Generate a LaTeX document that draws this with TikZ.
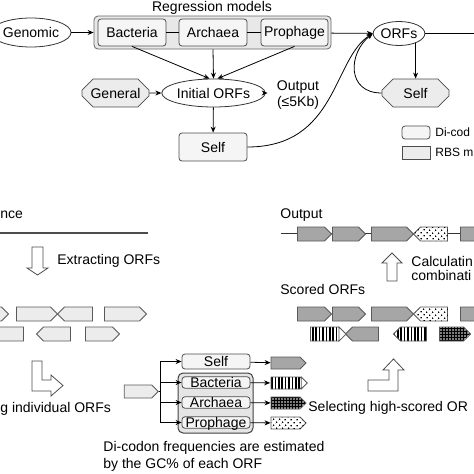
\documentclass[tikz,border=0pt]{standalone}
\usepackage{fontspec}
\setmainfont{Liberation Sans}
\usetikzlibrary{arrows.meta,shapes.geometric,shapes.misc,shapes.symbols,patterns.meta}

\begin{document}
\begin{tikzpicture}[x=1pt,y=-1pt,line width=0.8pt,>={Stealth[length=6pt,width=5pt]},
  every node/.style={font=\fontsize{14}{14}\selectfont},
  model/.style={draw=black!70,rounded corners=3pt,fill=gray!8,inner sep=0pt},
  rbs/.style={draw=black!70,chamfered rectangle,chamfered rectangle xsep=6pt,chamfered rectangle ysep=6pt,fill=gray!15,inner sep=0pt},
  orf/.style={draw=black!80,ellipse,fill=white,inner sep=0pt},
  gene/.style={draw=black!65,signal,signal from=nowhere,signal to=east,signal pointer angle=90,inner sep=0pt,minimum height=14pt,fill=gray!15},
  back/.style={gene,signal to=west},
  scored/.style={fill=gray!70},
  stripes/.style={pattern color=black,pattern={Lines[angle=90,distance=3.4pt,line width=1.7pt]}},
  checker/.style={fill=black,postaction={pattern color=white,pattern={Dots[radius=0.8pt,distance=3pt]}}},
  dotty/.style={fill=white,postaction={pattern color=black,pattern={Dots[radius=0.9pt,distance=4pt,angle=45]}}},
  bigarrow/.style={draw=black!70,fill=white}]
\useasboundingbox (0,0) rectangle (474,474);

% regression models
\node (title) at (212,8) {Regression models};
\node[model,fill=gray!18,draw=black!60,rounded corners=4pt,minimum width=237pt,minimum height=33pt] (reg) at (212.5,32.5) {};
\node[model,minimum width=68pt,minimum height=27pt] (bac) at (132,32.5) {Bacteria};
\node[model,minimum width=68pt,minimum height=27pt] (arc) at (213,32.5) {Archaea};
\node[model,minimum width=67pt,minimum height=27pt] (pro) at (294.5,32.5) {Prophage};
\draw (bac) -- (arc) (arc) -- (pro);
\node[orf,minimum width=80pt,minimum height=29pt] (gnm) at (31,32.5) {Genomic};
\draw [->] (gnm) -- (reg);

\node[orf,minimum width=85pt,minimum height=28pt] (ini) at (213.5,93) {Initial ORFs};
\node[rbs,minimum width=67pt,minimum height=28pt] (gen) at (115.5,93) {General};
\node[model,minimum width=68pt,minimum height=28pt] (slf) at (213,147) {Self};
\node[align=center,inner xsep=9pt,font=\fontsize{14}{16}\selectfont] (out) at (298,95) {Output\\(≤5Kb)};
\draw [->] (bac.south) -- ([xshift=-4pt]ini.north);
\draw [->] (arc.south |- reg.south) -- (ini.north);
\draw [->] (pro.south) -- ([xshift=4pt]ini.north);
\draw [->] (gen) -- (ini);
\draw [->] (ini) -- (slf);
\draw [->] (ini.east) -- (ini.east -| out.west);

\node[orf,minimum width=47pt,minimum height=24pt] (orfs) at (399,33.5) {ORFs};
\coordinate (rim) at (474,33.5);
\draw [->] (reg) -- (orfs);
\draw (orfs) -- (rim);
\node[rbs,minimum width=67pt,minimum height=28pt] (rself) at (415.5,93) {Self};
\draw [->] (orfs.-30) -- (orfs.-30 |- rself.north);
\draw [->] (rself.west) .. controls +(-35,0) and +(-25,20) .. (orfs.west);
\draw [->] (slf.east) .. controls +(90,0) and +(-40,25) .. (orfs.west);

% legend
\node[model,minimum width=28pt,minimum height=13pt] (lg1) at (416,132.5) {};
\node[anchor=west,inner sep=0pt,font=\fontsize{12}{12}\selectfont] (lt1) at (435,132.5) {Di-cod};
\node[rbs,chamfered rectangle xsep=3pt,chamfered rectangle ysep=3pt,minimum width=28pt,minimum height=13pt] (lg2) at (416,152.5) {};
\node[anchor=west,inner sep=0pt,font=\fontsize{12}{12}\selectfont] (lt2) at (435,152.5) {RBS m};

% extracting
\node[anchor=west,inner sep=0pt] (seq) at (0,215) {nce};
\draw [line width=1.6pt,black!70] (0,233) -- (148,233);
\draw [bigarrow] (32,247) -- (43,247) -- (43,268) -- (48,268) -- (37.5,275) -- (27,268) -- (32,268) -- cycle;
\node[anchor=west,inner sep=0pt] (ext) at (57,261) {Extracting ORFs};

\node[gene,minimum width=35pt] (a1) at (-12.5,314) {};
\node[gene,minimum width=41pt] (a2) at (33.5,314) {};
\node[back,minimum width=35pt] (a3) at (78.5,314) {};
\node[gene,minimum width=42pt] (a4) at (122,314) {};
\node[back,minimum width=39pt] (b1) at (7.5,334) {};
\node[back,minimum width=34pt] (b2) at (57,334) {};
\node[gene,minimum width=34pt] (b3) at (99,334) {};

\draw [bigarrow] (32,361) -- (42,361) -- (42,380) -- (51,380) -- (51,375) -- (63,385.5) -- (51,396) -- (51,391) -- (32,391) -- cycle;
\node[anchor=west,inner sep=0pt] (ind) at (0,409) {g individual ORFs};

% scoring each ORF
\node[gene,minimum width=34pt,minimum height=13pt] (inp) at (138,391.5) {};
\coordinate (fan) at (160,391.5);
\node[model,minimum width=68pt,minimum height=15pt] (slf2) at (216,361.5) {Self};
\node[model,fill=gray!20,draw=black!75,line width=1pt,rounded corners=5pt,minimum width=75pt,minimum height=60pt] (grp) at (215.5,403) {};
\node[model,minimum width=68pt,minimum height=11.5pt,text height=9.5pt,text depth=0pt] (bac2) at (216,382.5) {Bacteria};
\node[model,minimum width=68pt,minimum height=11.5pt,text height=9.5pt,text depth=0pt] (arc2) at (216,402.5) {Archaea};
\node[model,minimum width=68pt,minimum height=11.5pt,text height=9.5pt,text depth=0pt] (pro2) at (216,422.5) {Prophage};
\draw (inp.east) -- (fan);
\draw (fan |- slf2.west) -- (fan |- pro2.west);
\draw [->] (fan |- slf2.west) -- (slf2.west);
\draw [->] (fan |- bac2.west) -- (bac2.west);
\draw [->] (fan |- arc2.west) -- (arc2.west);
\draw [->] (fan |- pro2.west) -- (pro2.west);

\node[gene,scored,minimum width=35pt,minimum height=12pt] (gs) at (285.5,363) {};
\node[gene,stripes,minimum width=35pt,minimum height=12pt] (gb) at (285.5,383) {};
\node[gene,checker,minimum width=35pt,minimum height=12pt] (ga) at (285.5,403) {};
\node[gene,dotty,minimum width=35pt,minimum height=12pt] (gp) at (285.5,423) {};
\filldraw [fill=white,draw=black!65] (gb.east) -- ++(-6,-6) -- ++(0,12) -- cycle;
\draw [->] (slf2) -- (gs);
\draw [->] (bac2) -- (gb);
\draw [->] (arc2) -- (ga);
\draw [->] (pro2) -- (gp);
\node[anchor=west,align=left,inner sep=0pt,font=\fontsize{14}{17}\selectfont] (cap) at (103,456.5) {Di-codon frequencies are estimated\\by the GC\% of each ORF};

% output
\node[anchor=west,inner sep=0pt] (otxt) at (280,215) {Output};
\coordinate (ol) at (281,233);
\coordinate (or) at (474,233);
\draw [black!80] (ol) -- (or);
\node[gene,scored,minimum width=34pt] (o1) at (311,234) {};
\node[gene,scored,minimum width=33pt] (o2) at (345.5,234) {};
\node[gene,scored,minimum width=42pt] (o3) at (389,234) {};
\node[back,dotty,minimum width=34pt] (o4) at (434,234) {};
\node[gene,scored,minimum width=43pt] (o5) at (478.5,234) {};

\draw [bigarrow] (387,281) -- (387,263) -- (382,263) -- (392,253) -- (402,263) -- (397,263) -- (397,281) -- cycle;
\node[anchor=west,align=left,inner sep=0pt] (calc) at (411,268) {Calculatin\\combinati};

\node[anchor=west,inner sep=0pt] (sco) at (280,289) {Scored ORFs};
\node[gene,scored,minimum width=34pt] (s1) at (311,314) {};
\node[gene,scored,minimum width=33pt] (s2) at (345.5,314) {};
\node[gene,scored,minimum width=42pt] (s3) at (389,314) {};
\node[back,dotty,minimum width=34pt] (s4) at (434,314) {};
\node[gene,scored,minimum width=43pt] (s5) at (478.5,314) {};
\node[gene,stripes,minimum width=35pt] (t1) at (324.5,334) {};
\filldraw [fill=white,draw=black!65] (t1.east) -- ++(-7,-7) -- ++(0,14) -- cycle;
\node[back,scored,minimum width=33pt] (t2) at (365.5,334) {};
\node[back,stripes,minimum width=33pt] (t3) at (413.5,334) {};
\node[gene,checker,minimum width=31pt] (t4) at (451.5,334) {};

\draw [bigarrow] (368,380) -- (389,380) -- (389,370) -- (383,370) -- (393.5,359) -- (404,370) -- (398,370) -- (398,391) -- (368,391) -- cycle;
\node[anchor=west,inner sep=0pt] (sel) at (308,408) {Selecting high-scored OR};

\end{tikzpicture}
\end{document}
